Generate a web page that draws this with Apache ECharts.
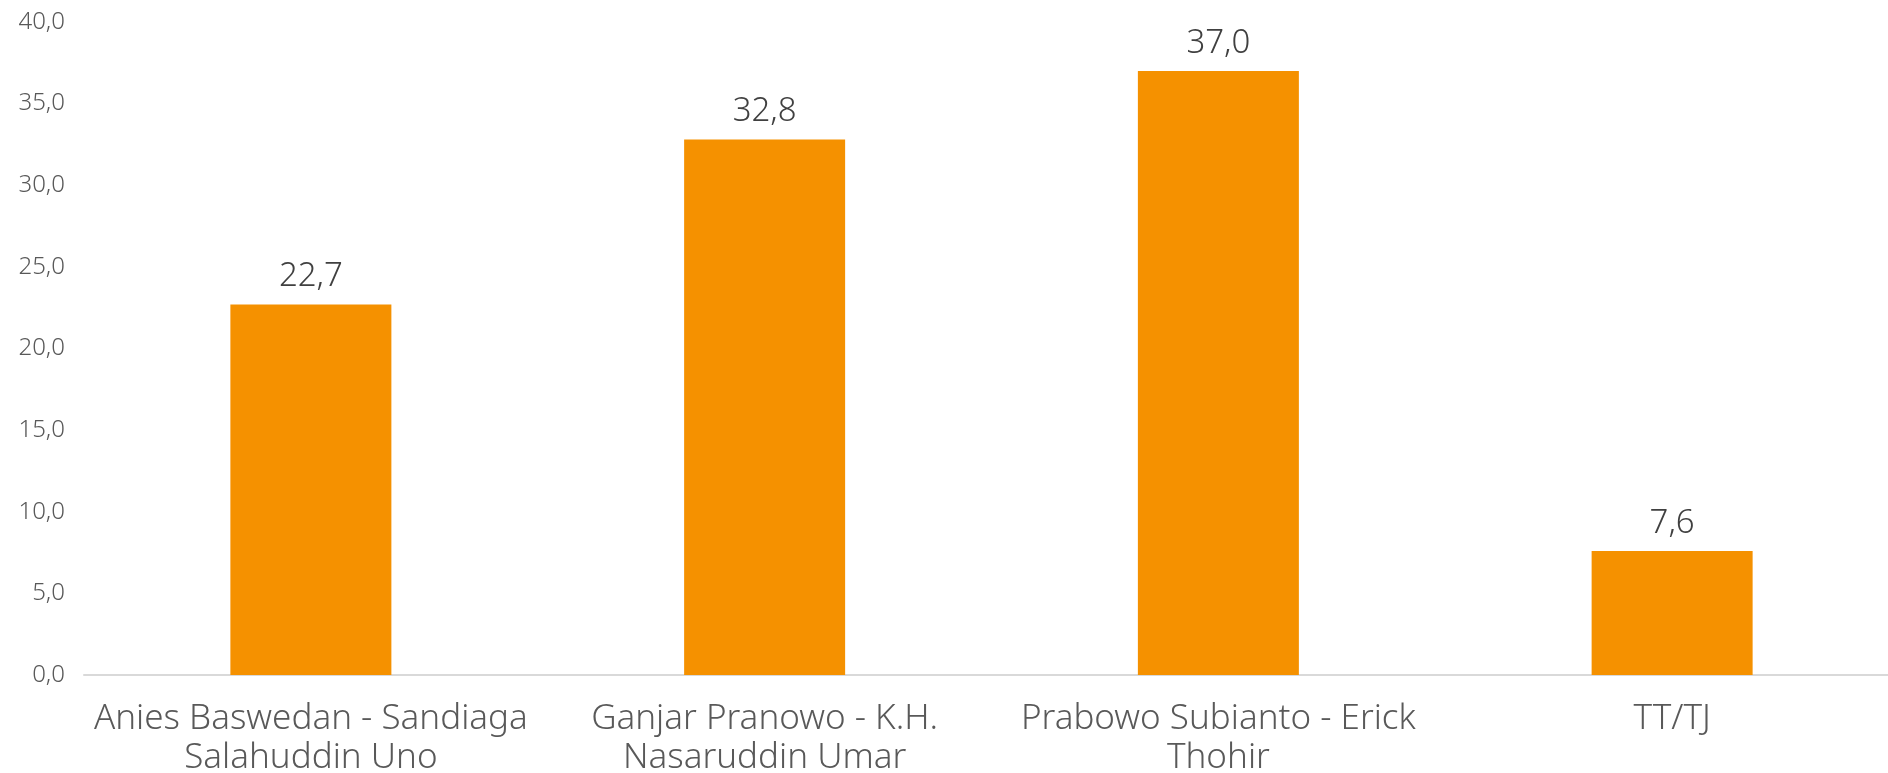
<!DOCTYPE html>
<html>
<head>
<meta charset="utf-8">
<script src="https://cdn.jsdelivr.net/npm/echarts@6/dist/echarts.min.js"></script>
<style>
  html, body { margin: 0; padding: 0; background: #fff; }
  #chart { width: 1888px; height: 773px; }
</style>
</head>
<body>
<div id="chart"></div>
<script>
const categories = [
  'Anies Baswedan - Sandiaga\nSalahuddin Uno',
  'Ganjar Pranowo - K.H.\nNasaruddin Umar',
  'Prabowo Subianto - Erick\nThohir',
  'TT/TJ'
]
const values = [22.7, 32.8, 37.0, 7.6]

const fmt = v => Number(v).toFixed(1).replace('.', ',')
const fontFamily = '"Noto Sans", "DejaVu Sans", sans-serif'

const chart = echarts.init(document.getElementById('chart'))
chart.setOption({
  animation: false,
  grid: {
    top: 22,
    left: 84,
    right: -11,
    bottom: 98,
    containLabel: false,
    outerBoundsMode: 'none'
  },
  xAxis: {
    type: 'category',
    data: categories,
    axisLine: { lineStyle: { color: '#d9d9d9', width: 2 } },
    axisTick: { show: false },
    axisLabel: {
      interval: 0,
      color: '#595959',
      fontFamily,
      fontWeight: 300,
      fontSize: 35,
      lineHeight: 39,
      margin: 25
    }
  },
  yAxis: {
    type: 'value',
    min: 0,
    max: 40,
    interval: 5,
    axisLine: { show: false },
    axisTick: { show: false },
    splitLine: { show: false },
    axisLabel: {
      color: '#595959',
      fontFamily,
      fontWeight: 300,
      fontSize: 24,
      margin: 19,
      formatter: fmt
    }
  },
  series: [
    {
      type: 'bar',
      data: values,
      barWidth: 161,
      itemStyle: { color: '#f59100' },
      label: {
        show: true,
        position: 'top',
        distance: 11,
        color: '#404040',
        fontFamily,
        fontWeight: 300,
        fontSize: 33,
        formatter: p => fmt(p.value)
      }
    }
  ]
})
</script>
</body>
</html>
